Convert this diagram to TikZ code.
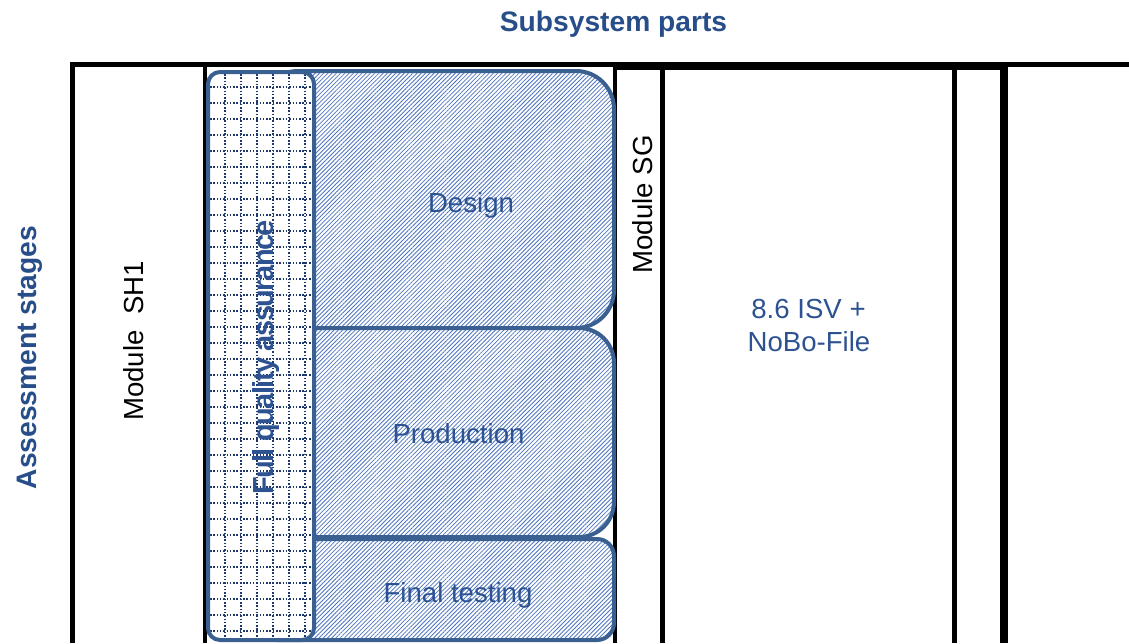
\documentclass[tikz,border=0pt]{standalone}
\usepackage{fontspec}
\setmainfont{Liberation Sans}
\newfontfamily\fqafont[LetterSpace=-5.4]{Liberation Sans}
\usepackage{graphicx}
\usetikzlibrary{patterns.meta}
\definecolor{boxblue}{RGB}{58,95,145}
\definecolor{txtblue}{RGB}{44,82,145}
\definecolor{ttlblue}{RGB}{40,78,138}
\definecolor{gridnavy}{RGB}{30,56,110}
\definecolor{hatchblue}{RGB}{78,118,192}
\begin{document}
\begin{tikzpicture}[x=1pt,y=-1pt,
  colline/.style={line width=#1, black},
  stagebox/.style={draw=boxblue, line width=4pt, preaction={fill=white},
    pattern={Lines[angle=45,distance=3pt,line width=0.8pt]}, pattern color=hatchblue,
    inner sep=0pt, outer sep=0pt},
  regtxt/.style={font=\fontsize{27.6}{33}\selectfont, inner sep=0pt},
  boldtxt/.style={font=\bfseries\fontsize{27.6}{33}\selectfont, inner sep=0pt},
  gridline/.style={gridnavy, line width=1.5pt, dash pattern=on 1.5pt off 1.8pt}]
\useasboundingbox (0,0) rectangle (1129,643);

% black column frame
\draw[colline=5pt] (72,643) -- (72,64.5) -- (1129,64.5);
\draw[colline=3pt] (614,68) -- (1004,68);
\draw[colline=4pt] (205,66) -- (205,643);
\draw[colline=4pt] (615,66) -- (615,643);
\draw[colline=5pt] (662.5,66) -- (662.5,643);
\draw[colline=5pt] (954.5,66) -- (954.5,643);
\draw[colline=8pt] (1004,64) -- (1004,643);

% stage boxes
\node[stagebox, rounded corners=38pt, minimum width=354pt, minimum height=257pt] (design) at (437,199.5) {};
\node[stagebox, rounded corners=35pt, minimum width=354pt, minimum height=209pt] (production) at (437,432.5) {};
\node[stagebox, rounded corners=17pt, minimum width=354pt, minimum height=101pt] (final) at (437,589.5) {};

% full quality assurance box
\node[fill=white, rounded corners=12pt, minimum width=106pt, minimum height=568pt, inner sep=0pt, outer sep=0pt] (fqa) at (261,356) {};
\begin{scope}
  \clip (210,74) rectangle (312,638);
  \foreach \gx in {225,241,...,312} {\draw[gridline] (\gx,74) -- (\gx,638);}
  \foreach \gy in {87,103,...,638} {\draw[gridline] (210,\gy) -- (312,\gy);}
\end{scope}
\draw[boxblue, line width=4pt, rounded corners=12pt] (fqa.south west) rectangle (fqa.north east);

% labels
\node[boldtxt, font=\bfseries\fontsize{28.2}{34}\selectfont, ttlblue, anchor=base] (title) at (613.5,31) {Subsystem parts};
\node[boldtxt, font=\bfseries\fontsize{28.2}{34}\selectfont, ttlblue, rotate=90, anchor=base] (assess) at (36,357.5) {Assessment stages};
\node[regtxt, rotate=90, anchor=base] (sh1) at (143.5,341) {Module\ \ SH1};
\node[regtxt, rotate=90, anchor=base] (sg) at (652,204.5) {Module SG};
\node[inner sep=0pt, txtblue, rotate=90, anchor=base, font=\fqafont\bfseries\fontsize{29}{34}\selectfont] (fqalbl) at (273,357.5) {Full quality assurance};
\node[regtxt, txtblue, anchor=base] (designlbl) at (471,212) {Design};
\node[regtxt, txtblue, anchor=base] (prodlbl) at (458.5,443) {Production};
\node[regtxt, txtblue, anchor=base] (finallbl) at (458,602) {Final testing};
\node[regtxt, txtblue, anchor=base] (isv1) at (808.5,318) {8.6 ISV +};
\node[regtxt, txtblue, anchor=base] (isv2) at (809,351) {NoBo-File};
\end{tikzpicture}
\end{document}
